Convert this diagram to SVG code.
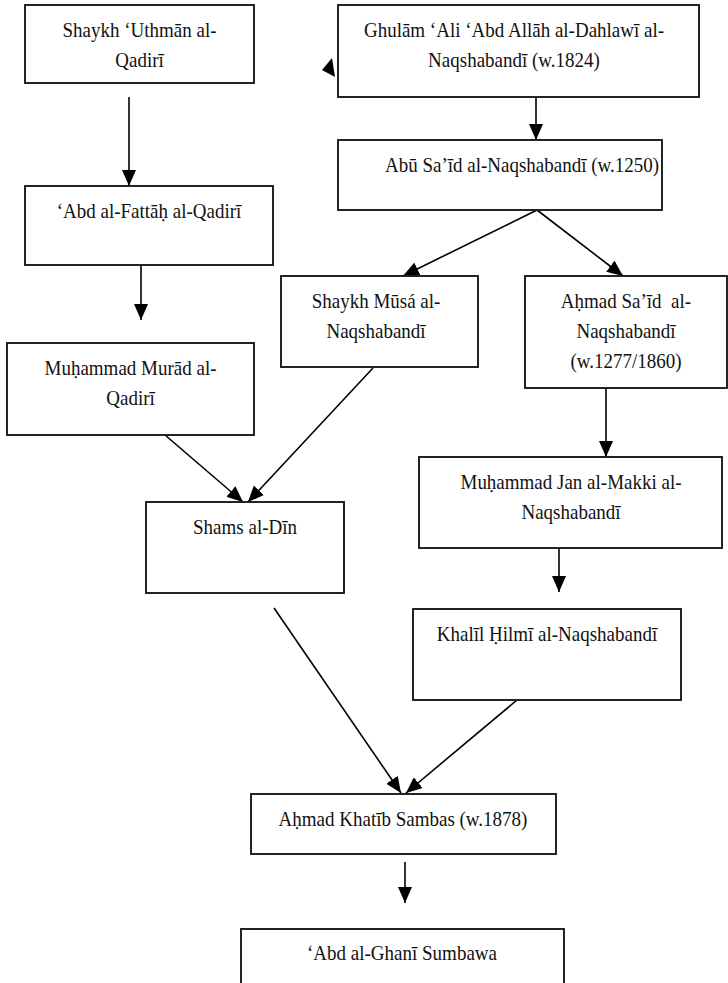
<svg xmlns="http://www.w3.org/2000/svg" width="728" height="983" viewBox="0 0 728 983">
<defs>
<style>
.box{fill:#fff;stroke:#1a1a1a;stroke-width:1.9}
text{font-family:'Liberation Serif','Times New Roman','DejaVu Serif',serif;font-size:19px;fill:#111;text-anchor:middle}
.c{stroke:#000;stroke-width:1.6;fill:none;marker-end:url(#ah)}
</style>
<marker id="ah" viewBox="0 0 16 14" markerWidth="16" markerHeight="14" refX="16" refY="7" orient="auto" markerUnits="userSpaceOnUse">
<path d="M0,0 L16,7 L0,14 z" fill="#000"/>
</marker>
</defs>
<rect width="728" height="983" fill="#fff"/>
<g id="connectors">
<line class="c" x1="129" y1="97" x2="129" y2="186"/>
<polygon points="322,70 332,58 335,77" fill="#000"/>
<line class="c" x1="536" y1="97" x2="536" y2="140"/>
<line class="c" x1="141" y1="265" x2="141" y2="320"/>
<line class="c" x1="537" y1="210" x2="403" y2="276"/>
<line class="c" x1="537" y1="210" x2="623" y2="276"/>
<line class="c" x1="606" y1="388" x2="606" y2="457"/>
<line class="c" x1="559" y1="548" x2="559" y2="592"/>
<line class="c" x1="165" y1="435" x2="243" y2="502"/>
<line class="c" x1="373" y1="368" x2="248" y2="502"/>
<line class="c" x1="274" y1="608" x2="401" y2="793"/>
<line class="c" x1="517" y1="700" x2="406" y2="793"/>
<line class="c" x1="405" y1="862" x2="405" y2="903"/>
</g>
<g id="n1"><rect class="box" x="25" y="5" width="229" height="78"/><text transform="translate(139.5,37) scale(1,1.1)">Shaykh ‘Uthmān al-</text><text transform="translate(139.5,67) scale(1,1.1)">Qadirī</text></g>
<g id="n2"><rect class="box" x="338" y="5" width="361" height="92"/><text transform="translate(514,37) scale(1,1.1)">Ghulām ‘Ali ‘Abd Allāh al-Dahlawī al-</text><text transform="translate(514,67) scale(1,1.1)">Naqshabandī (w.1824)</text></g>
<g id="n3"><rect class="box" x="338" y="140" width="324" height="70"/><text transform="translate(522,172) scale(1,1.1)">Abū Sa’īd al-Naqshabandī (w.1250)</text></g>
<g id="n4"><rect class="box" x="25" y="186" width="248" height="79"/><text transform="translate(149,218) scale(1,1.1)">‘Abd al-Fattāḥ al-Qadirī</text></g>
<g id="n5"><rect class="box" x="7" y="343" width="247" height="92"/><text transform="translate(130.5,375) scale(1,1.1)">Muḥammad Murād al-</text><text transform="translate(130.5,405) scale(1,1.1)">Qadirī</text></g>
<g id="n6"><rect class="box" x="281" y="276" width="197" height="91"/><text transform="translate(376,308) scale(1,1.1)">Shaykh Mūsá al-</text><text transform="translate(376,338) scale(1,1.1)">Naqshabandī</text></g>
<g id="n7"><rect class="box" x="525" y="276" width="202" height="112"/><text transform="translate(626,308) scale(1,1.1)">Aḥmad Sa’īd&#160; al-</text><text transform="translate(626,338) scale(1,1.1)">Naqshabandī</text><text transform="translate(626,368) scale(1,1.1)">(w.1277/1860)</text></g>
<g id="n8"><rect class="box" x="146" y="502" width="198" height="91"/><text transform="translate(245,534) scale(1,1.1)">Shams al-Dīn</text></g>
<g id="n9"><rect class="box" x="419" y="457" width="303" height="91"/><text transform="translate(571,489) scale(1,1.1)">Muḥammad Jan al-Makki al-</text><text transform="translate(571,519) scale(1,1.1)">Naqshabandī</text></g>
<g id="n10"><rect class="box" x="413" y="609" width="268" height="91"/><text transform="translate(547,641) scale(1,1.1)">Khalīl Ḥilmī al-Naqshabandī</text></g>
<g id="n11"><rect class="box" x="251" y="794" width="305" height="60"/><text transform="translate(403,826) scale(1,1.1)">Aḥmad Khatīb Sambas (w.1878)</text></g>
<g id="n12"><rect class="box" x="241" y="929" width="323" height="70"/><text transform="translate(402,960) scale(1,1.1)">‘Abd al-Ghanī Sumbawa</text></g>
</svg>
